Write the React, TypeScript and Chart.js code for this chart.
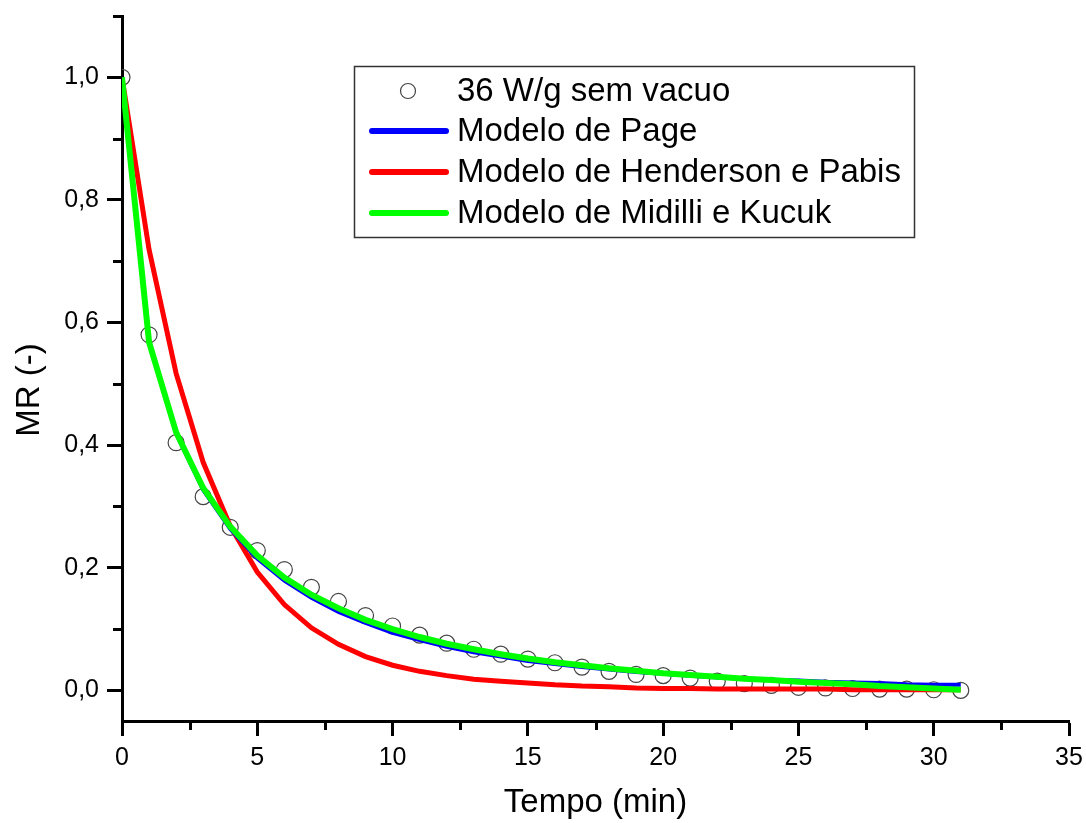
import { useEffect, useRef } from "react";
import { Chart, registerables } from "chart.js";

Chart.register(...registerables);

// ---- data ----
const time = [0, 1, 2, 3, 4, 5, 6, 7, 8, 9, 10, 11, 12, 13, 14, 15, 16, 17, 18, 19, 20, 21, 22, 23, 24, 25, 26, 27, 28, 29, 30, 31];
const mrObserved = [1.0, 0.58, 0.404, 0.316, 0.266, 0.228, 0.197, 0.168, 0.145, 0.122, 0.105, 0.09, 0.077, 0.067, 0.059, 0.051, 0.045, 0.038, 0.031, 0.026, 0.024, 0.02, 0.015, 0.011, 0.008, 0.005, 0.004, 0.003, 0.002, 0.002, 0.001, 0.0];
const mrPage = [1.0, 0.568, 0.419, 0.327, 0.263, 0.215, 0.179, 0.151, 0.128, 0.11, 0.094, 0.082, 0.071, 0.062, 0.055, 0.048, 0.043, 0.038, 0.034, 0.03, 0.027, 0.024, 0.021, 0.019, 0.017, 0.016, 0.014, 0.013, 0.012, 0.01, 0.009, 0.009];
const mrHenderson = [1.0, 0.719, 0.517, 0.372, 0.268, 0.193, 0.14, 0.102, 0.075, 0.055, 0.041, 0.031, 0.024, 0.018, 0.015, 0.012, 0.009, 0.007, 0.006, 0.004, 0.003, 0.003, 0.002, 0.002, 0.002, 0.002, 0.002, 0.001, 0.001, 0.001, 0.001, 0.001];
const mrMidilli = [1.0, 0.568, 0.421, 0.33, 0.267, 0.22, 0.184, 0.156, 0.134, 0.115, 0.1, 0.087, 0.076, 0.067, 0.059, 0.052, 0.046, 0.041, 0.036, 0.032, 0.028, 0.025, 0.022, 0.019, 0.017, 0.014, 0.012, 0.01, 0.007, 0.005, 0.003, 0.001];

const seriesLabels = ["36 W/g sem vacuo", "Modelo de Page", "Modelo de Henderson e Pabis", "Modelo de Midilli e Kucuk"];
const seriesColors = ["#444444", "#0000ff", "#ff0000", "#00ff00"];
const xTitle = "Tempo (min)";
const yTitle = "MR (-)";
const xTicks = [0, 5, 10, 15, 20, 25, 30, 35];
const yTicks = [0, 0.2, 0.4, 0.6, 0.8, 1.0];
const xMinorTicks = [2.5, 7.5, 12.5, 17.5, 22.5, 27.5, 32.5];
const yMinorTicks = [0.1, 0.3, 0.5, 0.7, 0.9, 1.1];

const FONT = "'Liberation Sans', Arial, sans-serif";

const pts = (ys: number[]) => time.map((t, i) => ({ x: t, y: ys[i] }));

const zeroPad = (s: any) => {
  s.paddingTop = 0;
  s.paddingBottom = 0;
  s.paddingLeft = 0;
  s.paddingRight = 0;
};

const decorPlugin = {
  id: "decor",
  afterDraw(chart: any) {
    const ctx = chart.ctx as CanvasRenderingContext2D;
    const ca = chart.chartArea;
    const xs = chart.scales.x;
    const ys = chart.scales.y;
    ctx.save();
    // minor ticks
    ctx.strokeStyle = "#000";
    ctx.lineWidth = 3;
    ctx.lineCap = "butt";
    ctx.beginPath();
    xMinorTicks.forEach((v) => {
      const px = Math.round(xs.getPixelForValue(v)) + 0.5;
      ctx.moveTo(px, ca.bottom);
      ctx.lineTo(px, ca.bottom + 9);
    });
    yMinorTicks.forEach((v) => {
      const py = Math.round(ys.getPixelForValue(v)) + 0.5;
      ctx.moveTo(ca.left, py);
      ctx.lineTo(ca.left - 9, py);
    });
    ctx.stroke();

    // y title
    ctx.save();
    ctx.translate(30, ys.getPixelForValue(0.49));
    ctx.rotate(-Math.PI / 2);
    ctx.font = `33px ${FONT}`;
    ctx.fillStyle = "#000";
    ctx.textAlign = "center";
    ctx.textBaseline = "middle";
    ctx.fillText(yTitle, 0, 0);
    ctx.restore();

    // legend
    const bx = ca.left + 232;
    const by = ca.top + 50;
    const bw = 560;
    const bh = 171;
    ctx.fillStyle = "#fff";
    ctx.fillRect(bx, by, bw, bh);
    ctx.strokeStyle = "#333";
    ctx.lineWidth = 1.5;
    ctx.strokeRect(bx + 0.5, by + 0.5, bw, bh);
    const rowY = [by + 25, by + 65, by + 106, by + 147];
    ctx.font = `33px ${FONT}`;
    ctx.textAlign = "left";
    ctx.textBaseline = "middle";
    seriesLabels.forEach((label, i) => {
      const y = rowY[i];
      if (i === 0) {
        ctx.beginPath();
        ctx.strokeStyle = seriesColors[0];
        ctx.lineWidth = 1.2;
        ctx.arc(bx + 54, y, 7.5, 0, Math.PI * 2);
        ctx.stroke();
      } else {
        ctx.beginPath();
        ctx.strokeStyle = seriesColors[i];
        ctx.lineWidth = 6;
        ctx.lineCap = "round";
        ctx.moveTo(bx + 18, y);
        ctx.lineTo(bx + 92, y);
        ctx.stroke();
        ctx.lineCap = "butt";
      }
      ctx.fillStyle = "#000";
      ctx.fillText(label, bx + 103, y + 1);
    });
    ctx.restore();
  },
};

export default function App() {
  const ref = useRef<HTMLCanvasElement>(null);
  useEffect(() => {
    if (!ref.current) return;
    const noClip = { left: 0, top: false, right: false, bottom: false } as any;
    const chart = new Chart(ref.current, {
      type: "line",
      data: {
        datasets: [
          {
            label: seriesLabels[0],
            data: pts(mrObserved),
            showLine: false,
            pointStyle: "circle",
            pointRadius: 8,
            pointBorderWidth: 1.2,
            pointBorderColor: seriesColors[0],
            pointBackgroundColor: "rgba(0,0,0,0)",
            order: 4,
            clip: noClip,
          },
          {
            label: seriesLabels[2],
            data: pts(mrHenderson),
            borderColor: seriesColors[2],
            borderWidth: 5,
            pointRadius: 0,
            tension: 0,
            order: 3,
            clip: noClip,
          },
          {
            label: seriesLabels[1],
            data: pts(mrPage),
            borderColor: seriesColors[1],
            borderWidth: 4,
            pointRadius: 0,
            tension: 0,
            order: 2,
            clip: noClip,
          },
          {
            label: seriesLabels[3],
            data: pts(mrMidilli),
            borderColor: seriesColors[3],
            borderWidth: 6,
            pointRadius: 0,
            tension: 0,
            order: 1,
            clip: noClip,
          },
        ],
      },
      options: {
        responsive: false,
        animation: false,
        layout: { padding: { left: 0, top: 16, right: 17, bottom: 0 } },
        plugins: { legend: { display: false }, tooltip: { enabled: false } },
        scales: {
          x: {
            type: "linear",
            min: 0,
            max: 35,
            afterBuildTicks: (s: any) => {
              s.ticks = xTicks.map((v) => ({ value: v }));
            },
            afterFit: (s: any) => {
              s.height = 102;
              zeroPad(s);
            },
            ticks: {
              font: { family: FONT, size: 25 },
              color: "#000",
              padding: 7,
              maxRotation: 0,
              callback: (v: any) => String(v),
            },
            grid: {
              display: true,
              drawOnChartArea: false,
              drawTicks: true,
              tickLength: 15,
              tickWidth: 3,
              tickColor: "#000",
            },
            border: { display: true, color: "#000", width: 3 },
            title: {
              display: true,
              text: xTitle,
              color: "#000",
              font: { family: FONT, size: 33 },
              padding: { top: 0, bottom: 0 },
            },
          },
          y: {
            type: "linear",
            min: -0.05,
            max: 1.1,
            afterBuildTicks: (s: any) => {
              s.ticks = yTicks.map((v) => ({ value: v }));
            },
            afterFit: (s: any) => {
              s.width = 122;
              zeroPad(s);
            },
            ticks: {
              font: { family: FONT, size: 25 },
              color: "#000",
              padding: 8,
              callback: (v: any) => Number(v).toFixed(1).replace(".", ","),
            },
            grid: {
              display: true,
              drawOnChartArea: false,
              drawTicks: true,
              tickLength: 15,
              tickWidth: 3,
              tickColor: "#000",
            },
            border: { display: true, color: "#000", width: 3 },
            title: { display: false },
          },
        },
      },
      plugins: [decorPlugin],
    });
    return () => chart.destroy();
  }, []);
  return (
    <div style={{ position: "absolute", left: 0, top: 0, width: 1086, height: 823, background: "#fff" }}>
      <canvas ref={ref} width={1086} height={823} style={{ display: "block" }} />
    </div>
  );
}
